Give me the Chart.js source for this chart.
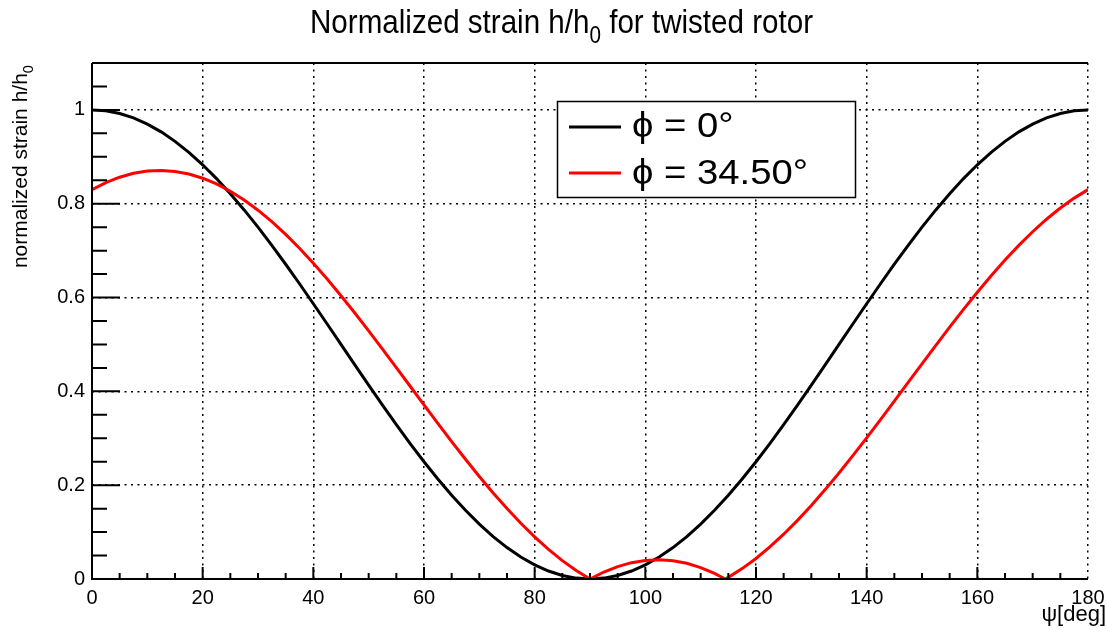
<!DOCTYPE html>
<html><head><meta charset="utf-8">
<script src="https://cdn.jsdelivr.net/npm/chart.js@4.4.1/dist/chart.umd.min.js"></script>
<style>html,body{margin:0;padding:0;background:#fff}#wrap{width:1108px;height:630px;position:relative}</style>
</head><body><div id="wrap"><canvas id="c" width="1108" height="630"></canvas></div>
<script>
// ψ in degrees
const psi = [0,2.5,5,7.5,10,12.5,15,17.5,20,22.5,25,27.5,30,32.5,35,37.5,40,42.5,45,47.5,50,52.5,55,57.5,60,62.5,65,67.5,70,72.5,75,77.5,80,82.5,85,87.5,90,
  92.5,95,97.5,100,102.5,105,107.5,110,112.5,115,117.5,120,122.5,125,127.5,130,132.5,135,137.5,140,142.5,145,147.5,150,152.5,155,157.5,160,162.5,165,167.5,170,172.5,175,177.5,180];
// normalized strain, phi = 0 deg
const hPhi0 = [1,0.9981,0.9924,0.9830,0.9698,0.9532,0.9330,0.9096,0.8830,0.8536,0.8214,0.7868,0.75,0.7113,0.6710,0.6294,0.5868,0.5436,0.5,0.4564,0.4132,0.3706,0.3290,0.2887,0.25,0.2132,0.1786,0.1464,0.1170,0.0904,0.0670,0.0468,0.0302,0.0170,0.0076,0.0019,0,
  0.0019,0.0076,0.0170,0.0302,0.0468,0.0670,0.0904,0.1170,0.1464,0.1786,0.2132,0.25,0.2887,0.3290,0.3706,0.4132,0.4564,0.5,0.5436,0.5868,0.6294,0.6710,0.7113,0.75,0.7868,0.8214,0.8536,0.8830,0.9096,0.9330,0.9532,0.9698,0.9830,0.9924,0.9981,1];
// normalized strain, phi = 34.50 deg
const hPhi345 = [0.830,0.8449,0.8565,0.8648,0.8696,0.8710,0.8689,0.8634,0.8544,0.8421,0.8265,0.8079,0.7862,0.7617,0.7345,0.7050,0.6732,0.6395,0.6040,0.5671,0.5291,0.4902,0.4507,0.4109,0.3712,0.3318,0.2930,0.2552,0.2186,0.1835,0.1501,0.1188,0.0897,0.0631,0.0391,0.0181,0,
  0.0149,0.0265,0.0348,0.0396,0.0410,0.0389,0.0334,0.0244,0.0121,0.0035,0.0221,0.0438,0.0683,0.0955,0.1250,0.1568,0.1906,0.2260,0.2629,0.3009,0.3399,0.3793,0.4191,0.4588,0.4982,0.5370,0.5748,0.6114,0.6465,0.6799,0.7112,0.7403,0.7669,0.7909,0.8120,0.830];
// second zero of the red curve
const cuspPsi = [114.44];
const cuspVal = [0];

const seriesNames = ["\u03D5 = 0\u00B0", "\u03D5 = 34.50\u00B0"];
const seriesColors = ["#000000", "#ff0000"];
const xTickValues = [0,20,40,60,80,100,120,140,160,180];
const xTickLabels = ["0","20","40","60","80","100","120","140","160","180"];
const yTickValues = [0,0.2,0.4,0.6,0.8,1];
const yTickLabels = ["0","0.2","0.4","0.6","0.8","1"];
const titleParts = [["Normalized strain h/h",false],["0",true],[" for twisted rotor",false]];
const yTitleParts = [["normalized strain h/h",false],["0",true]];
const xTitle = "\u03C8[deg]";

const FONT = '"Liberation Sans", Arial, Helvetica, sans-serif';

const blackPts = psi.map((x,i)=>({x, y:hPhi0[i]}));
const redPts = psi.map((x,i)=>({x, y:hPhi345[i]}))
  .concat(cuspPsi.map((x,i)=>({x, y:cuspVal[i]})))
  .sort((a,b)=>a.x-b.x);

function richWidth(ctx, parts, size){
  let w=0;
  for (const [t,sub] of parts){ ctx.font=(sub?size*0.7:size)+'px '+FONT; w+=ctx.measureText(t).width; }
  return w;
}
function drawRich(ctx, parts, x, y, size){
  let cx=x;
  for (const [t,sub] of parts){
    const fs = sub?size*0.7:size;
    ctx.font=fs+'px '+FONT;
    ctx.fillText(t, cx, y+(sub?size*0.28:0));
    cx+=ctx.measureText(t).width;
  }
}

const rootStyle = {
  id:'rootStyle',
  afterDatasetsDraw(chart){
    const {ctx, chartArea:a, scales:{x,y}} = chart;
    ctx.save();
    ctx.setLineDash([]);
    ctx.strokeStyle='#000';
    ctx.lineWidth=2;
    ctx.beginPath();
    ctx.moveTo(a.left, a.top); ctx.lineTo(a.right, a.top);
    ctx.moveTo(a.left, a.top); ctx.lineTo(a.left, a.bottom); ctx.lineTo(a.right, a.bottom);
    ctx.stroke();
    ctx.lineWidth=2;
    ctx.beginPath();
    for (let i=1;i<=21;i++){
      const py = y.getPixelForValue(i*0.05);
      const len = (i%4===0)?28:15;
      ctx.moveTo(a.left, py); ctx.lineTo(a.left+len, py);
    }
    for (let i=1;i<36;i++){
      const px = x.getPixelForValue(i*5);
      const len = (i%4===0)?12:6;
      ctx.moveTo(px, a.bottom); ctx.lineTo(px, a.bottom-len);
    }
    ctx.stroke();
    ctx.restore();
  },
  afterDraw(chart){
    const {ctx} = chart;
    ctx.save();
    ctx.fillStyle='#000';
    ctx.textAlign='left';
    ctx.textBaseline='alphabetic';
    // title
    const tSize=34, tw=richWidth(ctx,titleParts,tSize), target=503;
    ctx.save();
    ctx.translate(310,33);
    ctx.scale(target/tw,1);
    drawRich(ctx,titleParts,0,0,tSize);
    ctx.restore();
    // y title
    const ySize=21, yw=richWidth(ctx,yTitleParts,ySize);
    ctx.save();
    ctx.translate(27,65);
    ctx.rotate(-Math.PI/2);
    drawRich(ctx,yTitleParts,-yw,0,ySize);
    ctx.restore();
    // x title
    ctx.font='22px '+FONT;
    ctx.textAlign='right';
    ctx.fillText(xTitle,1106,621);
    ctx.textAlign='left';
    // legend
    ctx.fillStyle='#fff';
    ctx.fillRect(557,101,299,97);
    ctx.strokeStyle='#000';
    ctx.lineWidth=1.5;
    ctx.strokeRect(557.5,101.5,298,96);
    const rows=[127,173], bases=[137,184];
    ctx.font='35px '+FONT;
    const lsx = 176/ctx.measureText(chart.data.datasets[1].label).width;
    chart.data.datasets.forEach((ds,i)=>{
      ctx.strokeStyle=ds.borderColor;
      ctx.lineWidth=3;
      ctx.beginPath(); ctx.moveTo(569,rows[i]); ctx.lineTo(621,rows[i]); ctx.stroke();
      ctx.fillStyle='#000';
      ctx.save();
      ctx.translate(632,bases[i]);
      ctx.scale(lsx,1);
      ctx.font='35px '+FONT;
      ctx.fillText(ds.label,0,0);
      ctx.restore();
    });
    ctx.restore();
  }
};

new Chart(document.getElementById('c'), {
  type:'line',
  data:{datasets:[
    {label:seriesNames[0], data:blackPts, borderColor:seriesColors[0], borderWidth:3, pointRadius:0, tension:0, order:1},
    {label:seriesNames[1], data:redPts, borderColor:seriesColors[1], borderWidth:3, pointRadius:0, tension:0, order:0}
  ]},
  options:{
    responsive:false, animation:false, devicePixelRatio:1, events:[],
    layout:{padding:{left:0, top:63, right:20, bottom:0}},
    plugins:{legend:{display:false}, title:{display:false}, tooltip:{enabled:false}},
    scales:{
      x:{type:'linear', min:0, max:180,
        afterBuildTicks:s=>{s.ticks=xTickValues.map(v=>({value:v}));},
        afterFit:s=>{s.height=51; s.paddingLeft=0; s.paddingRight=0;},
        ticks:{callback:(v,i)=>xTickLabels[i], font:{family:FONT,size:20}, color:'#000', padding:7, maxRotation:0, autoSkip:false},
        grid:{color:'#000', lineWidth:1.5, drawTicks:false},
        border:{display:false, dash:[2,4.5]}},
      y:{type:'linear', min:0, max:1.1,
        afterBuildTicks:s=>{s.ticks=yTickValues.map(v=>({value:v}));},
        afterFit:s=>{s.width=92; s.paddingTop=0; s.paddingBottom=0;},
        ticks:{callback:(v,i)=>yTickLabels[i], font:{family:FONT,size:20}, color:'#000', padding:7, autoSkip:false},
        grid:{color:'#000', lineWidth:1.5, drawTicks:false},
        border:{display:false, dash:[2,4.5]}}
    }
  },
  plugins:[rootStyle]
});
</script></body></html>
